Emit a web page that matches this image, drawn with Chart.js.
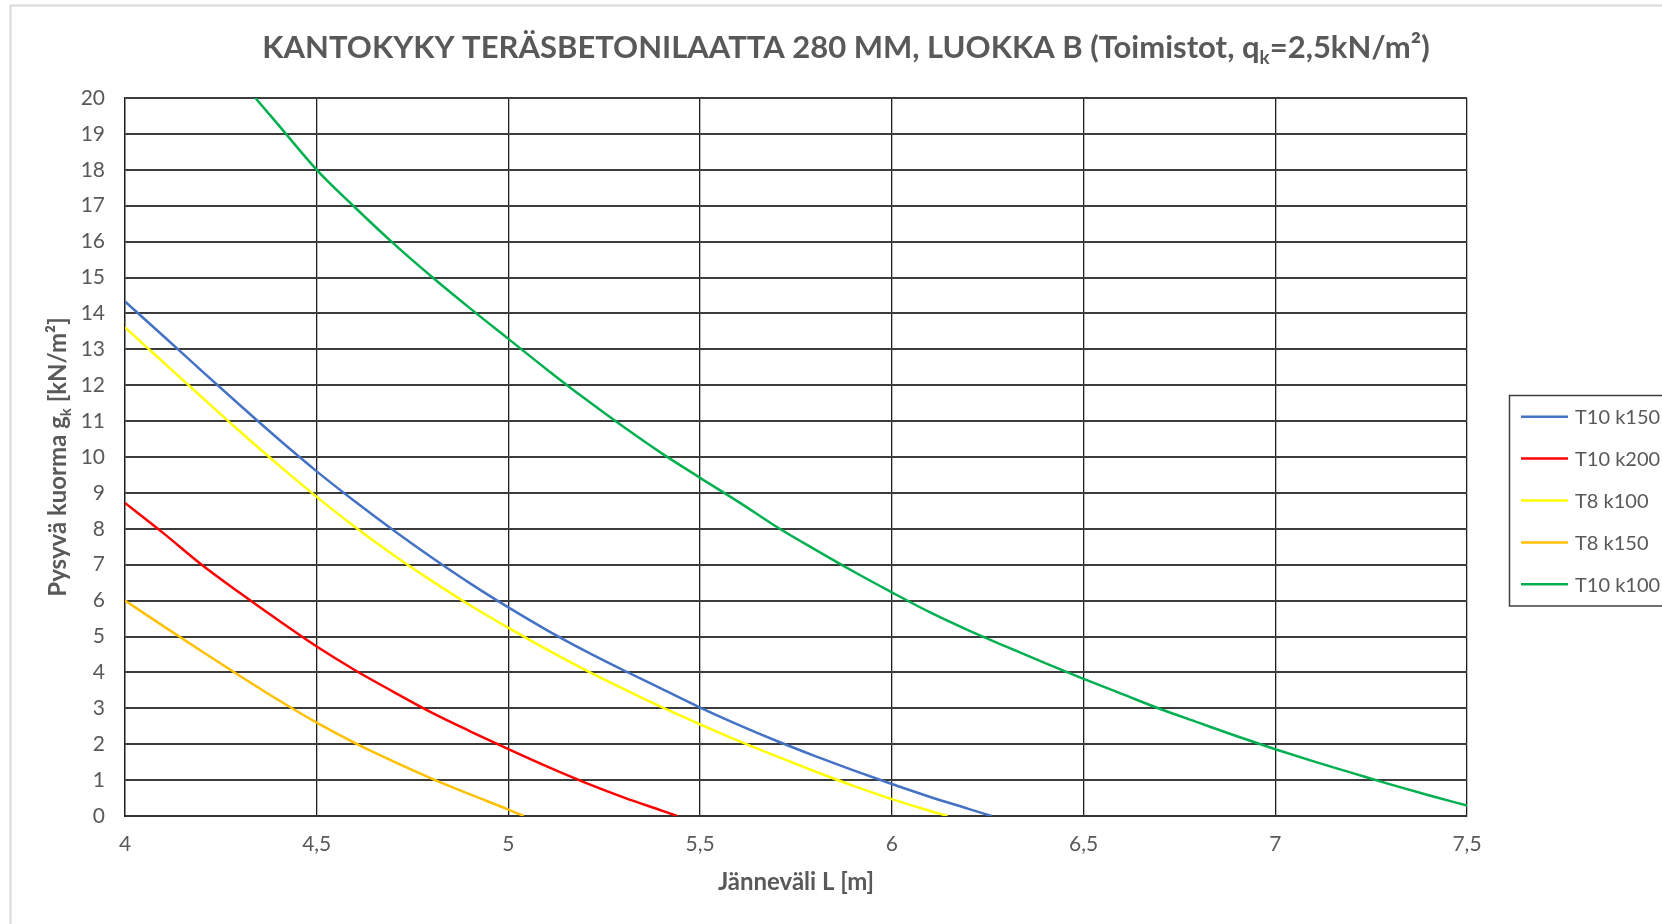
<!DOCTYPE html>
<html lang="fi">
<head>
<meta charset="utf-8">
<title>Kantokyky teräsbetonilaatta 280 mm, luokka B</title>
<script src="https://cdn.jsdelivr.net/npm/chart.js@4.4.1/dist/chart.umd.min.js"></script>
<style>
  html, body { margin: 0; padding: 0; background: #ffffff; }
  #wrap { width: 1662px; height: 924px; position: relative; overflow: hidden; }
</style>
</head>
<body>
<div id="wrap"><canvas id="c" width="1662" height="924"></canvas></div>
<script>
// Series names and line colours
const seriesLabels = ['T10 k150', 'T10 k200', 'T8 k100', 'T8 k150', 'T10 k100'];
const seriesColors = ['#4472C4', '#FF0000', '#FFFF00', '#FFC000', '#00B050'];

// Span L [m] and permanent load g_k [kN/m²] for each reinforcement option
const spanT10k150 = [4.0, 4.1, 4.2, 4.3, 4.4, 4.5, 4.6, 4.7, 4.8, 4.9, 5.0, 5.1, 5.2, 5.3, 5.4, 5.5, 5.6, 5.7, 5.8, 5.9, 6.0, 6.1, 6.2, 6.26];
const loadT10k150 = [14.33, 13.37, 12.40, 11.44, 10.50, 9.60, 8.76, 7.96, 7.20, 6.48, 5.81, 5.18, 4.60, 4.06, 3.54, 3.02, 2.54, 2.09, 1.67, 1.27, 0.89, 0.53, 0.20, 0];

const spanT10k200 = [4.0, 4.1, 4.2, 4.3, 4.4, 4.5, 4.6, 4.7, 4.8, 4.9, 5.0, 5.1, 5.2, 5.3, 5.4, 5.44];
const loadT10k200 = [8.72, 7.88, 7.00, 6.21, 5.45, 4.72, 4.06, 3.46, 2.88, 2.36, 1.86, 1.38, 0.93, 0.52, 0.15, 0];

const spanT8k100 = [4.0, 4.1, 4.2, 4.3, 4.4, 4.5, 4.6, 4.7, 4.8, 4.9, 5.0, 5.1, 5.2, 5.3, 5.4, 5.5, 5.6, 5.7, 5.8, 5.9, 6.0, 6.1, 6.145];
const loadT8k100 = [13.61, 12.64, 11.67, 10.71, 9.78, 8.89, 8.05, 7.27, 6.55, 5.87, 5.24, 4.64, 4.07, 3.54, 3.03, 2.55, 2.09, 1.66, 1.24, 0.84, 0.47, 0.14, 0];

const spanT8k150 = [4.0, 4.1, 4.2, 4.3, 4.4, 4.5, 4.6, 4.7, 4.8, 4.9, 5.0, 5.04];
const loadT8k150 = [6.00, 5.29, 4.59, 3.90, 3.23, 2.60, 2.03, 1.52, 1.04, 0.60, 0.18, 0];

const spanT10k100 = [4.34, 4.4, 4.5, 4.6, 4.7, 4.8, 4.9, 5.0, 5.1, 5.2, 5.3, 5.4, 5.5, 5.6, 5.7, 5.8, 5.9, 6.0, 6.1, 6.2, 6.3, 6.4, 6.5, 6.6, 6.7, 6.8, 6.9, 7.0, 7.1, 7.2, 7.3, 7.4, 7.5];
const loadT10k100 = [20.0, 19.25, 18.00, 16.95, 15.95, 15.02, 14.14, 13.29, 12.44, 11.62, 10.84, 10.10, 9.42, 8.75, 8.05, 7.42, 6.81, 6.23, 5.67, 5.17, 4.71, 4.26, 3.82, 3.40, 2.98, 2.60, 2.22, 1.86, 1.52, 1.20, 0.88, 0.58, 0.29];

const seriesSpans = [spanT10k150, spanT10k200, spanT8k100, spanT8k150, spanT10k100];
const seriesLoads = [loadT10k150, loadT10k200, loadT8k100, loadT8k150, loadT10k100];

// Axis ranges and texts
const spanTicks = [4, 4.5, 5, 5.5, 6, 6.5, 7, 7.5];
const loadTicks = [0, 1, 2, 3, 4, 5, 6, 7, 8, 9, 10, 11, 12, 13, 14, 15, 16, 17, 18, 19, 20];
const titleParts = [
  { t: 'KANTOKYKY TERÄSBETONILAATTA 280 MM, LUOKKA B (Toimistot, q' },
  { t: 'k', sub: true },
  { t: '=2,5kN/m²)' }
];
const yTitleParts = [
  { t: 'Pysyvä kuorma g' },
  { t: 'k', sub: true },
  { t: ' [kN/m²]' }
];
const xTitle = 'Jänneväli L [m]';

const TEXT = '#595959';
const FONT = 'Lato, "Open Sans", "DejaVu Sans", sans-serif';

const datasets = seriesLabels.map((label, i) => ({
  label,
  data: seriesSpans[i].map((x, j) => ({ x, y: seriesLoads[i][j] })),
  borderColor: seriesColors[i],
  backgroundColor: seriesColors[i],
  borderWidth: 2.5,
  pointRadius: 0,
  showLine: true,
  fill: false,
  cubicInterpolationMode: 'monotone'
}));

// Text with a lowered small part (subscript), centred on cx
function richWidth(ctx, parts, size, weight) {
  let w = 0;
  parts.forEach(p => {
    ctx.font = weight + ' ' + (p.sub ? Math.round(size * 0.62) : size) + 'px ' + FONT;
    w += ctx.measureText(p.t).width;
  });
  return w;
}
function drawRich(ctx, parts, cx, baseY, size, weight) {
  const total = richWidth(ctx, parts, size, weight);
  let x = cx - total / 2;
  ctx.textAlign = 'left';
  ctx.textBaseline = 'alphabetic';
  parts.forEach(p => {
    const s = p.sub ? Math.round(size * 0.62) : size;
    ctx.font = weight + ' ' + s + 'px ' + FONT;
    ctx.fillText(p.t, x, baseY + (p.sub ? size * 0.2 : 0));
    x += ctx.measureText(p.t).width;
  });
}

const framePlugin = {
  id: 'frame',
  beforeDraw(chart) {
    const ctx = chart.ctx;
    ctx.save();
    ctx.fillStyle = '#ffffff';
    ctx.fillRect(0, 0, chart.width, chart.height);
    ctx.strokeStyle = '#d9d9d9';
    ctx.lineWidth = 2;
    ctx.strokeRect(10.5, 5.5, chart.width + 20, chart.height + 20);
    ctx.restore();
  }
};

const headingsPlugin = {
  id: 'headings',
  afterDraw(chart) {
    const ctx = chart.ctx;
    const area = chart.chartArea;
    ctx.save();
    ctx.fillStyle = TEXT;
    drawRich(ctx, titleParts, 846, 58, 31, 'bold');
    ctx.translate(66, (area.top + area.bottom) / 2);
    ctx.rotate(-Math.PI / 2);
    drawRich(ctx, yTitleParts, 0, 0, 24, 'bold');
    ctx.restore();
  }
};

const keyPlugin = {
  id: 'keyBox',
  afterDraw(chart) {
    const ctx = chart.ctx;
    const left = 1509, top = 395, bottom = 605.5;
    ctx.save();
    ctx.strokeStyle = '#404040';
    ctx.lineWidth = 1.5;
    ctx.strokeRect(left + 0.5, top + 0.5, chart.width, bottom - top);
    chart.data.datasets.forEach((ds, i) => {
      const y = 416.7 + i * 41.9;
      ctx.strokeStyle = ds.borderColor;
      ctx.lineWidth = 2.5;
      ctx.beginPath();
      ctx.moveTo(1521, y);
      ctx.lineTo(1568, y);
      ctx.stroke();
      ctx.fillStyle = TEXT;
      ctx.font = '20px ' + FONT;
      ctx.textAlign = 'left';
      ctx.textBaseline = 'middle';
      ctx.fillText(ds.label, 1575, y + 1);
    });
    ctx.restore();
  }
};

new Chart(document.getElementById('c'), {
  type: 'scatter',
  data: { datasets },
  plugins: [framePlugin, headingsPlugin, keyPlugin],
  options: {
    responsive: false,
    animation: false,
    devicePixelRatio: 1,
    layout: { padding: { left: 0, right: 195, top: 98, bottom: 0 } },
    plugins: {
      legend: { display: false },
      title: { display: false },
      tooltip: { enabled: false }
    },
    scales: {
      x: {
        type: 'linear',
        min: spanTicks[0],
        max: spanTicks[spanTicks.length - 1],
        afterBuildTicks(scale) { scale.ticks = spanTicks.map(v => ({ value: v })); },
        afterFit(scale) { scale.height = 108; },
        ticks: {
          callback: v => String(v).replace('.', ','),
          color: TEXT,
          font: { family: FONT, size: 21, weight: 'normal' },
          padding: 16,
          maxRotation: 0
        },
        grid: { color: '#1e1e1e', lineWidth: 1.3, drawTicks: false },
        border: { display: true, color: '#333333', width: 2 },
        title: {
          display: true,
          text: xTitle,
          color: TEXT,
          font: { family: FONT, size: 24, weight: 'bold' },
          padding: { top: 0, bottom: 27 }
        }
      },
      y: {
        type: 'linear',
        min: loadTicks[0],
        max: loadTicks[loadTicks.length - 1],
        afterBuildTicks(scale) { scale.ticks = loadTicks.map(v => ({ value: v })); },
        afterFit(scale) { scale.width = 125; },
        ticks: {
          color: TEXT,
          font: { family: FONT, size: 21, weight: 'normal' },
          padding: 20
        },
        grid: { color: '#3c3c3c', lineWidth: 2, drawTicks: false },
        border: { display: true, color: '#1e1e1e', width: 1.3 }
      }
    }
  }
});
</script>
</body>
</html>
